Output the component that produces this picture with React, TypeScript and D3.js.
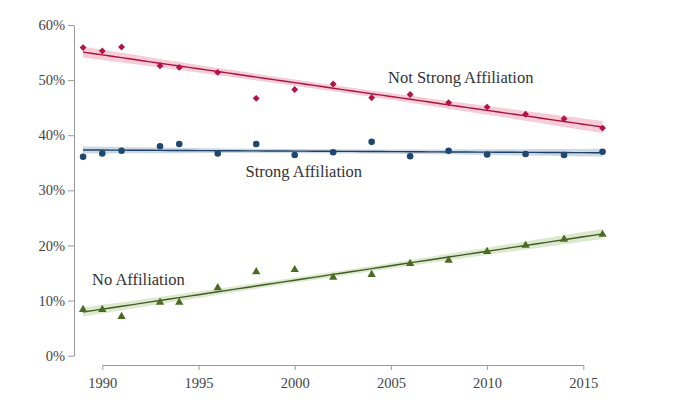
import React, { useRef, useEffect } from "react";
import * as d3 from "d3";

const years = [1989, 1990, 1991, 1993, 1994, 1996, 1998, 2000, 2002, 2004, 2006, 2008, 2010, 2012, 2014, 2016];
const notStrong = [55.9, 55.3, 56.0, 52.6, 52.3, 51.4, 46.7, 48.3, 49.3, 46.8, 47.4, 45.9, 45.1, 43.8, 43.0, 41.3];
const strong = [36.1, 36.7, 37.2, 38.0, 38.4, 36.7, 38.4, 36.4, 36.9, 38.8, 36.2, 37.2, 36.5, 36.6, 36.4, 37.0];
const noAffil = [8.35, 8.35, 7.1, 9.7, 9.7, 12.3, 15.2, 15.6, 14.2, 14.7, 16.7, 17.3, 18.9, 20.0, 21.1, 22.0];
const yTicks = [0, 10, 20, 30, 40, 50, 60];
const xTicks = [1990, 1995, 2000, 2005, 2010, 2015];

const App = () => {
    const svgRef = useRef<SVGSVGElement>(null);

    useEffect(() => {
        const svg = d3.select(svgRef.current);
        svg.selectAll("*").remove();

        const x = d3.scaleLinear().domain([1990, 2015]).range([102.3, 583.3]);
        const y = d3.scaleLinear().domain([0, 60]).range([355.7, 25]);
        const font = "Liberation Serif, Times New Roman, Tinos, DejaVu Serif, serif";

        // fitted line with band
        const fit = (vals: number[]) => {
            const n = years.length;
            const xm = d3.mean(years)!;
            const ym = d3.mean(vals)!;
            const sxx = d3.sum(years, (d) => (d - xm) ** 2);
            const sxy = d3.sum(years, (d, i) => (d - xm) * (vals[i] - ym));
            const b = sxy / sxx;
            const a = ym - b * xm;
            const s = Math.sqrt(d3.sum(years, (d, i) => (vals[i] - a - b * d) ** 2) / (n - 2));
            const xs = d3.range(1989, 2016.01, 0.5);
            return xs.map((xx) => {
                const se = 1.7 * s * Math.sqrt(1 / n + (xx - xm) ** 2 / sxx);
                return { x: xx, y: a + b * xx, lo: a + b * xx - se, hi: a + b * xx + se };
            });
        };

        const series = [
            { vals: notStrong, line: "#a8123e", band: "#f5c3cf", mark: "#b3124a", shape: d3.symbolDiamond2, size: 30 },
            { vals: strong, line: "#1c3f63", band: "#c3d2e1", mark: "#1f4870", shape: d3.symbolCircle, size: 34 },
            { vals: noAffil, line: "#3e5a22", band: "#d6e5c5", mark: "#4b6a22", shape: d3.symbolTriangle, size: 30 },
        ];

        const area = d3.area<any>().x((d) => x(d.x)).y0((d) => y(d.lo)).y1((d) => y(d.hi));
        const line = d3.line<any>().x((d) => x(d.x)).y((d) => y(d.y));

        series.forEach((s) => {
            const f = fit(s.vals);
            svg.append("path").attr("d", area(f)).attr("fill", s.band).attr("opacity", 0.85);
        });
        series.forEach((s) => {
            const f = fit(s.vals);
            svg.append("path").attr("d", line(f)).attr("fill", "none").attr("stroke", s.line).attr("stroke-width", 1.4);
            svg
                .append("g")
                .selectAll("path")
                .data(s.vals)
                .enter()
                .append("path")
                .attr("d", d3.symbol().type(s.shape).size(s.size))
                .attr("transform", (d, i) => `translate(${x(years[i])}, ${y(d)})`)
                .attr("fill", s.mark);
        });

        // axes
        const yAxis = svg
            .append("g")
            .attr("transform", "translate(74, 0)")
            .call(d3.axisLeft(y).tickValues(yTicks).tickSize(6).tickSizeOuter(0).tickPadding(3).tickFormat((d) => `${d}%`));
        const xAxis = svg
            .append("g")
            .attr("transform", "translate(0, 365)")
            .call(d3.axisBottom(x).tickValues(xTicks).tickSize(5).tickSizeOuter(0).tickPadding(8).tickFormat(d3.format("d")));
        [yAxis, xAxis].forEach((g) => {
            g.attr("font-family", font).attr("font-size", 14.5);
            g.selectAll("path, line").attr("stroke", "#9a9a9a");
            g.selectAll("text").attr("fill", "#444");
        });

        // labels
        const labels = [
            { text: "Not Strong Affiliation", x: 388, y: 83 },
            { text: "Strong Affiliation", x: 245.5, y: 177 },
            { text: "No Affiliation", x: 92, y: 285 },
        ];
        svg
            .selectAll(".lab")
            .data(labels)
            .enter()
            .append("text")
            .attr("x", (d) => d.x)
            .attr("y", (d) => d.y)
            .attr("fill", "#333")
            .attr("font-family", font)
            .attr("font-size", 16.5)
            .text((d) => d.text);
    }, []);

    return (
        <svg ref={svgRef} width={700} height={413} style={{ position: "absolute", left: 0, top: 0, background: "#fff" }}></svg>
    );
};

export default App;
